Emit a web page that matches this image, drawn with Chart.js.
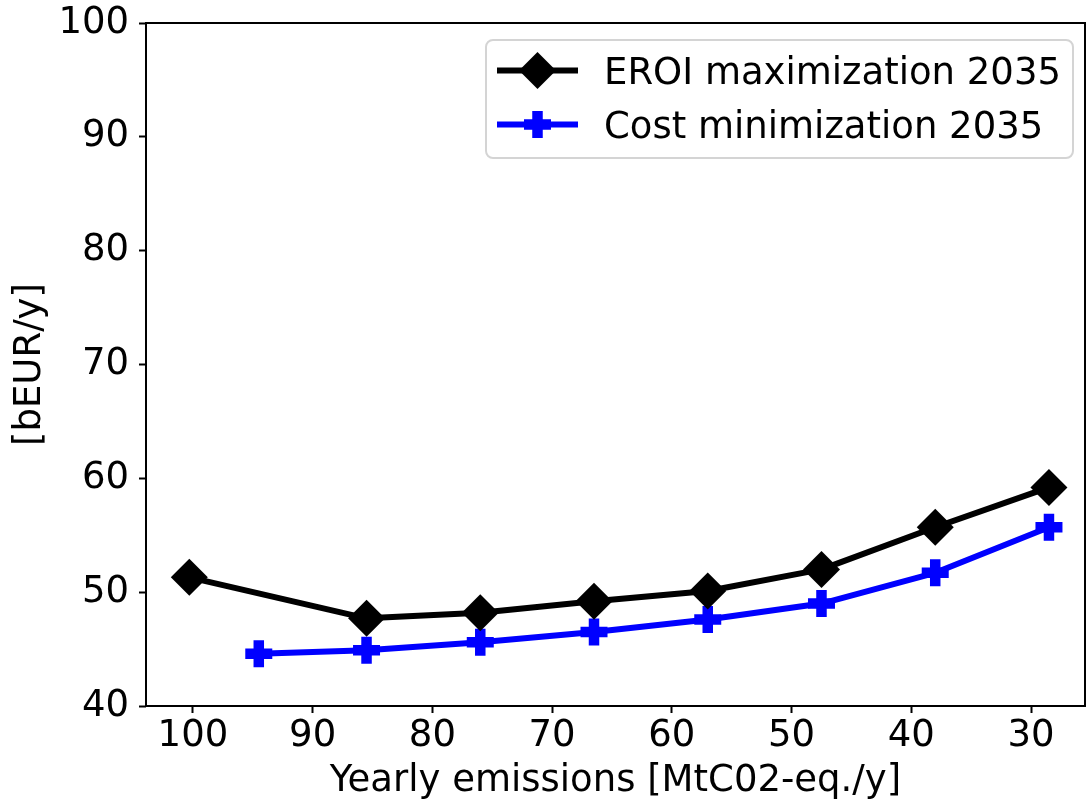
<!DOCTYPE html>
<html>
<head>
<meta charset="utf-8">
<title>Yearly emissions vs cost</title>
<script src="https://cdn.jsdelivr.net/npm/chart.js@4.4.1/dist/chart.umd.min.js"></script>
<style>
  html, body { margin: 0; padding: 0; background: #fff; }
  #wrap { width: 1086px; height: 807px; }
</style>
</head>
<body>
<div id="wrap"><canvas id="chart" width="1086" height="807"></canvas></div>
<script>
// emissions [MtCO2-eq./y] and annual cost [bEUR/y] per scenario
const emissionsEroi = [100.3, 85.5, 76, 66.5, 57, 47.5, 38, 28.5];
const costEroi = [51.3, 47.7, 48.2, 49.2, 50.1, 52.0, 55.7, 59.2];
const emissionsCost = [94.5, 85.5, 76, 66.5, 57, 47.5, 38, 28.5];
const costCost = [44.6, 44.9, 45.6, 46.5, 47.6, 49.0, 51.7, 55.7];

const xTicks = [100, 90, 80, 70, 60, 50, 40, 30];
const yTicks = [40, 50, 60, 70, 80, 90, 100];

const toPoints = (xs, ys) => xs.map((x, i) => ({ x: x, y: ys[i] }));

Chart.defaults.font.family = "'DejaVu Sans', sans-serif";
Chart.defaults.font.size = 37;
Chart.defaults.color = '#000';

// box around the whole plot area (matplotlib style spines)
const frame = {
  id: 'frame',
  afterDatasetsDraw(chart) {
    const { ctx, chartArea: a } = chart;
    ctx.save();
    ctx.strokeStyle = '#000';
    ctx.lineWidth = 2;
    ctx.strokeRect(a.left, a.top, a.right - a.left, a.bottom - a.top);
    ctx.restore();
  }
};

function drawMarker(ctx, ds, x, y) {
  ctx.save();
  const r = ds.pointRadius;
  if (ds.pointStyle === 'rectRot') {
    ctx.fillStyle = ds.pointBackgroundColor;
    ctx.beginPath();
    ctx.moveTo(x - r, y);
    ctx.lineTo(x, y - r);
    ctx.lineTo(x + r, y);
    ctx.lineTo(x, y + r);
    ctx.closePath();
    ctx.fill();
  } else {
    ctx.strokeStyle = ds.pointBorderColor;
    ctx.lineWidth = ds.pointBorderWidth;
    ctx.beginPath();
    ctx.moveTo(x - r, y);
    ctx.lineTo(x + r, y);
    ctx.moveTo(x, y - r);
    ctx.lineTo(x, y + r);
    ctx.stroke();
  }
  ctx.restore();
}

// legend with rounded frame in the upper right corner
const legendBox = {
  id: 'legendBox',
  afterDraw(chart) {
    const { ctx } = chart;
    const box = { left: 486, top: 40, right: 1073, bottom: 158 };
    const rowY = [70.5, 124.5];
    ctx.save();
    ctx.fillStyle = 'rgba(255,255,255,0.8)';
    ctx.strokeStyle = '#d4d4d4';
    ctx.lineWidth = 2;
    ctx.beginPath();
    ctx.roundRect(box.left, box.top, box.right - box.left, box.bottom - box.top, 7);
    ctx.fill();
    ctx.stroke();

    chart.data.datasets.forEach((ds, i) => {
      const y = rowY[i];
      ctx.strokeStyle = ds.borderColor;
      ctx.lineWidth = ds.borderWidth;
      ctx.lineCap = 'butt';
      ctx.beginPath();
      ctx.moveTo(497, y);
      ctx.lineTo(578, y);
      ctx.stroke();
      drawMarker(ctx, ds, 537.5, y);
      ctx.fillStyle = '#000';
      ctx.font = "37px 'DejaVu Sans', sans-serif";
      ctx.textBaseline = 'alphabetic';
      ctx.textAlign = 'left';
      ctx.fillText(ds.label, 604, y + 13.5);
    });
    ctx.restore();
  }
};

const ctx = document.getElementById('chart').getContext('2d');

new Chart(ctx, {
  type: 'line',
  data: {
    datasets: [
      {
        label: 'EROI maximization 2035',
        data: toPoints(emissionsEroi, costEroi),
        borderColor: '#000000',
        backgroundColor: '#000000',
        borderWidth: 6,
        borderJoinStyle: 'round',
        pointStyle: 'rectRot',
        pointRadius: 18.5,
        pointBorderWidth: 0,
        pointBackgroundColor: '#000000',
        pointBorderColor: '#000000',
        tension: 0
      },
      {
        label: 'Cost minimization 2035',
        data: toPoints(emissionsCost, costCost),
        borderColor: '#0000ff',
        backgroundColor: '#0000ff',
        borderWidth: 6,
        borderJoinStyle: 'round',
        pointStyle: 'cross',
        pointRadius: 13.5,
        pointBorderWidth: 10.5,
        pointBackgroundColor: '#0000ff',
        pointBorderColor: '#0000ff',
        tension: 0
      }
    ]
  },
  options: {
    responsive: false,
    devicePixelRatio: 1,
    animation: false,
    events: [],
    layout: { autoPadding: false, padding: { top: 23, right: 1, left: 0, bottom: 0 } },
    plugins: {
      legend: { display: false },
      tooltip: { enabled: false }
    },
    scales: {
      x: {
        type: 'linear',
        reverse: true,
        min: 25.49,
        max: 103.92,
        afterBuildTicks: (scale) => { scale.ticks = xTicks.map(v => ({ value: v })); },
        afterFit: (scale) => {
          scale.height = 101;
          scale.paddingLeft = 0;
          scale.paddingRight = 0;
        },
        border: { display: false },
        grid: { drawOnChartArea: false, drawTicks: true, tickLength: 7, tickWidth: 2, tickColor: '#000' },
        ticks: { autoSkip: false, maxRotation: 0, padding: 1, color: '#000' },
        title: { display: true, text: 'Yearly emissions [MtC02-eq./y]', color: '#000', padding: { top: 0, bottom: 3 } }
      },
      y: {
        type: 'linear',
        min: 40,
        max: 100,
        afterBuildTicks: (scale) => { scale.ticks = yTicks.map(v => ({ value: v })); },
        afterFit: (scale) => {
          scale.width = 146;
          scale.paddingTop = 0;
          scale.paddingBottom = 0;
        },
        border: { display: false },
        grid: { drawOnChartArea: false, drawTicks: true, tickLength: 7, tickWidth: 2, tickColor: '#000' },
        ticks: { autoSkip: false, padding: 10, color: '#000' },
        title: { display: true, text: '[bEUR/y]', color: '#000', padding: { top: 8, bottom: 0 } }
      }
    }
  },
  plugins: [frame, legendBox]
});
</script>
</body>
</html>
